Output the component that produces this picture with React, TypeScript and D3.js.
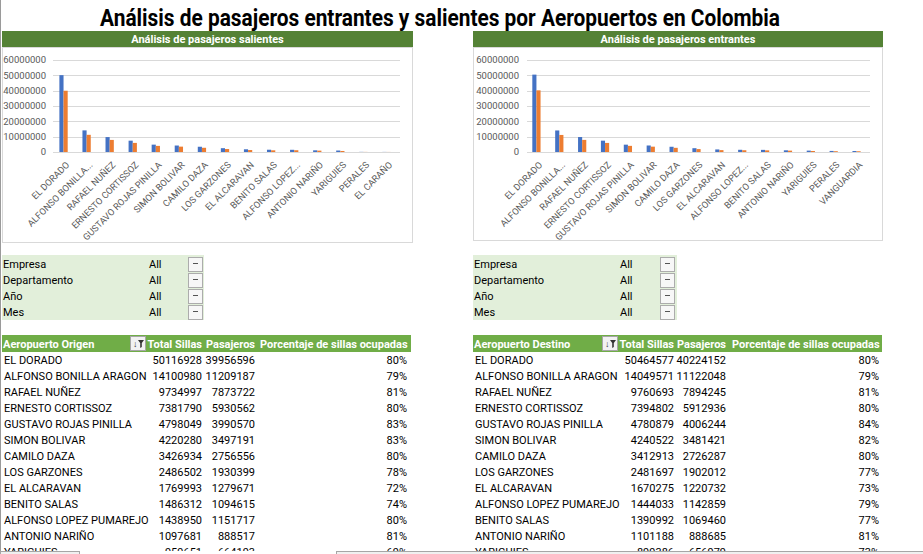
import React from 'react';
import * as d3 from 'd3';

// salientes (Aeropuerto Origen)
const salidaAeropuertos = ['EL DORADO', 'ALFONSO BONILLA ARAGON', 'RAFAEL NUÑEZ', 'ERNESTO CORTISSOZ', 'GUSTAVO ROJAS PINILLA', 'SIMON BOLIVAR', 'CAMILO DAZA', 'LOS GARZONES', 'EL ALCARAVAN', 'BENITO SALAS', 'ALFONSO LOPEZ PUMAREJO', 'ANTONIO NARIÑO', 'YARIGUIES', 'PERALES', 'EL CARAÑO'];
const salidaSillas = [50116928, 14100980, 9734997, 7381790, 4798049, 4220280, 3426934, 2486502, 1769993, 1486312, 1438950, 1097681, 959651, 90000, 60000];
const salidaPasajeros = [39956596, 11209187, 7873722, 5930562, 3990570, 3497191, 2756556, 1930399, 1279671, 1094615, 1151717, 888517, 664193, 60000, 40000];

// entrantes (Aeropuerto Destino)
const entradaAeropuertos = ['EL DORADO', 'ALFONSO BONILLA ARAGON', 'RAFAEL NUÑEZ', 'ERNESTO CORTISSOZ', 'GUSTAVO ROJAS PINILLA', 'SIMON BOLIVAR', 'CAMILO DAZA', 'LOS GARZONES', 'EL ALCARAVAN', 'ALFONSO LOPEZ PUMAREJO', 'BENITO SALAS', 'ANTONIO NARIÑO', 'YARIGUIES', 'PERALES', 'VANGUARDIA'];
const entradaSillas = [50464577, 14049571, 9760693, 7394802, 4780879, 4240522, 3412913, 2481697, 1670275, 1444033, 1390992, 1101188, 899386, 700000, 650000];
const entradaPasajeros = [40224152, 11122048, 7894245, 5912936, 4006244, 3481421, 2726287, 1902012, 1220732, 1142859, 1069460, 888685, 656979, 520000, 480000];

const filtros = ['Empresa', 'Departamento', 'Año', 'Mes'];
const columnas = ['Total Sillas', 'Pasajeros', 'Porcentaje de sillas ocupadas'];
const filasVisibles = 13;

const FONT = 'Roboto, "Liberation Sans", sans-serif';
const BLUE = '#4472c4';
const ORANGE = '#ed7d31';
const DARK_GREEN = '#548235';
const GREEN = '#70ad47';
const LIGHT_GREEN = '#e2efda';

const shortName = (n: string) => (n.length > 21 ? n.split(' ').slice(0, 2).join(' ') + '...' : n);

const Chart = ({ left, right, boxBottom, titulo, names, sillas, pasajeros, plot }) => {
    const y = d3.scaleLinear().domain([0, 60000000]).range([152, 60]);
    const x = d3.scaleBand().domain(names).range(plot.band).paddingInner(0);
    const bw = x.bandwidth() * 0.18;
    return (
        <g>
            <rect x={left} y={31} width={right - left} height={16} fill={DARK_GREEN} />
            <text x={(left + right) / 2} y={43} textAnchor="middle" fill="#fff" fontWeight="bold" fontSize={11} fontFamily={FONT}>{titulo}</text>
            <rect x={left + 0.5} y={47.5} width={right - left - 1} height={boxBottom - 48} fill="#fff" stroke="#d9d9d9" />
            {y.ticks(6).map(t => (
                <g key={t}>
                    <line x1={plot.grid[0]} x2={plot.grid[1]} y1={Math.round(y(t)) + 0.5} y2={Math.round(y(t)) + 0.5} stroke="#d9d9d9" />
                    <text x={plot.labelX} y={y(t) + 3.3} textAnchor="end" fontSize={9.5} fill="#595959" fontFamily={FONT}>{t}</text>
                </g>
            ))}
            {names.map((n, i) => {
                const cx = x(n) + x.bandwidth() / 2;
                return (
                    <g key={n}>
                        <rect x={cx - bw} y={y(sillas[i])} width={bw} height={y(0) - y(sillas[i])} fill={BLUE} />
                        <rect x={cx} y={y(pasajeros[i])} width={bw} height={y(0) - y(pasajeros[i])} fill={ORANGE} />
                        <text transform={`translate(${cx + 6.5},${165.5}) rotate(-45)`} textAnchor="end" fontSize={9.2} fill="#595959" fontFamily={FONT}>{shortName(n)}</text>
                    </g>
                );
            })}
        </g>
    );
};

const Filtros = ({ left, right, allX, btnX }) => (
    <g fontFamily={FONT} fontSize={11}>
        <rect x={left} y={255} width={right - left} height={65} fill={LIGHT_GREEN} />
        {filtros.map((f, i) => (
            <g key={f}>
                <text x={left + 1} y={268 + i * 16}>{f}</text>
                <text x={allX} y={268 + i * 16}>All</text>
                <rect x={btnX + 0.5} y={257.5 + i * 16} width={14} height={14} fill="#f7f7f7" stroke="#acacac" />
                <line x1={btnX + 5} x2={btnX + 10} y1={263.5 + i * 16} y2={263.5 + i * 16} stroke="#555" />
            </g>
        ))}
    </g>
);

const Tabla = ({ left, right, encabezado, names, sillas, pasajeros, cols }) => (
    <g fontFamily={FONT} fontSize={11}>
        <rect x={left} y={335} width={right - left} height={17} fill={GREEN} />
        <text x={left + 1} y={347.5} fill="#fff" fontWeight="bold">{encabezado}</text>
        <rect x={cols.icon + 0.5} y={336.5} width={15} height={14} fill="#f2f2f2" stroke="#a6a6a6" />
        <text x={cols.icon + 3} y={347} fontSize={9} fill="#333">↓</text>
        <path d={`M${cols.icon + 8},${340} h6 l-2.2,3 v4 l-1.6,1 v-5 z`} fill="#333" />
        <text x={cols.sillas} y={347.5} fill="#fff" fontWeight="bold" textAnchor="end">{columnas[0]}</text>
        <text x={cols.pas} y={347.5} fill="#fff" fontWeight="bold" textAnchor="end">{columnas[1]}</text>
        <text x={cols.pctStart} y={347.5} fill="#fff" fontWeight="bold">{columnas[2]}</text>
        {names.slice(0, filasVisibles).map((n, i) => (
            <g key={n}>
                <text x={left + 2} y={364 + i * 16}>{n}</text>
                <text x={cols.sillas} y={364 + i * 16} textAnchor="end">{sillas[i]}</text>
                <text x={cols.pas} y={364 + i * 16} textAnchor="end">{pasajeros[i]}</text>
                <text x={cols.pct} y={364 + i * 16} textAnchor="end">{d3.format('.0%')(pasajeros[i] / sillas[i])}</text>
            </g>
        ))}
    </g>
);

export default function App() {
    return (
        <svg width={923} height={554} style={{ position: 'absolute', left: 0, top: 0, background: '#fff' }}>
            <text x={440} y={26} textAnchor="middle" fontWeight="bold" fontSize={24} fontFamily={FONT} textLength={680} lengthAdjust="spacingAndGlyphs">
                Análisis de pasajeros entrantes y salientes por Aeropuertos en Colombia
            </text>
            <Chart left={2} right={413} boxBottom={243} titulo="Análisis de pasajeros salientes"
                names={salidaAeropuertos} sillas={salidaSillas} pasajeros={salidaPasajeros}
                plot={{ band: [52, 398], grid: [53, 400], labelX: 46 }} />
            <Chart left={473} right={883} boxBottom={241} titulo="Análisis de pasajeros entrantes"
                names={entradaAeropuertos} sillas={entradaSillas} pasajeros={entradaPasajeros}
                plot={{ band: [525, 868], grid: [527, 870], labelX: 519 }} />
            <Filtros left={2} right={204} allX={149} btnX={188} />
            <Filtros left={473} right={677} allX={620} btnX={660} />
            <Tabla left={2} right={411} encabezado="Aeropuerto Origen" names={salidaAeropuertos} sillas={salidaSillas} pasajeros={salidaPasajeros}
                cols={{ icon: 130, sillas: 202, pas: 255, pctStart: 260, pct: 407 }} />
            <Tabla left={473} right={882} encabezado="Aeropuerto Destino" names={entradaAeropuertos} sillas={entradaSillas} pasajeros={entradaPasajeros}
                cols={{ icon: 602, sillas: 674, pas: 726, pctStart: 732, pct: 879 }} />
            <rect x={0} y={551} width={923} height={3} fill="#fff" />
            <rect x={0.5} y={551.5} width={79} height={6} fill="#f0f0f0" stroke="#a6a6a6" />
            <rect x={336.5} y={551.5} width={590} height={6} fill="#f0f0f0" stroke="#a6a6a6" />
            <line x1={0.5} x2={0.5} y1={0} y2={551} stroke="#9a9a9a" />
        </svg>
    );
}
